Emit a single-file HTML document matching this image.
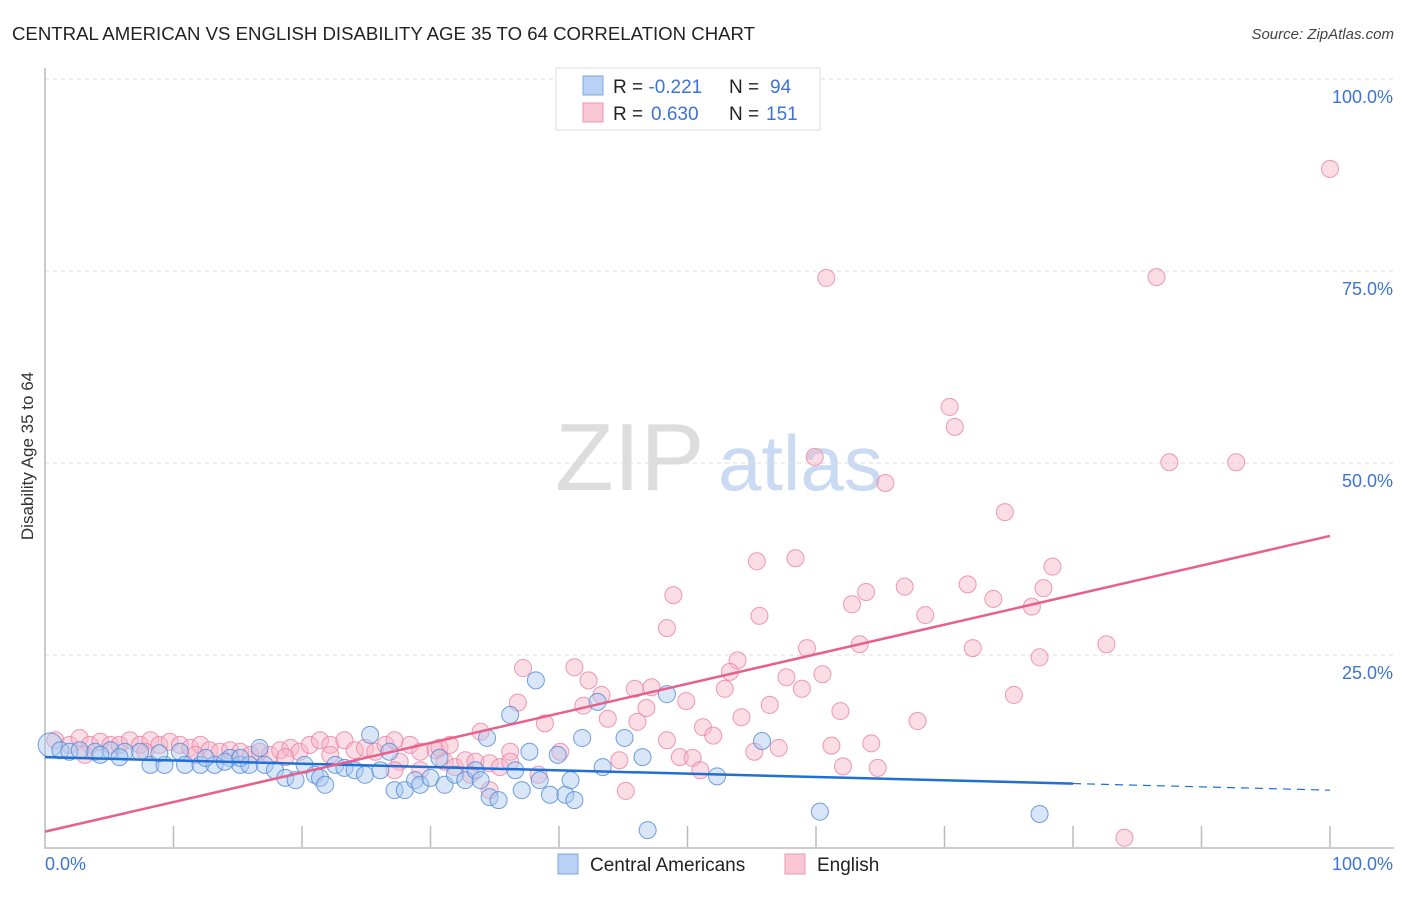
<!DOCTYPE html>
<html><head><meta charset="utf-8"><style>
body{margin:0;background:#fff;font-family:"Liberation Sans",sans-serif}
svg text{font-family:"Liberation Sans",sans-serif}
</style></head><body>
<svg id="chart" width="1406" height="892" xmlns="http://www.w3.org/2000/svg">
<text x="12" y="40" font-size="18" fill="#222" textLength="743" lengthAdjust="spacingAndGlyphs">CENTRAL AMERICAN VS ENGLISH DISABILITY AGE 35 TO 64 CORRELATION CHART</text>
<text x="1394" y="39" font-size="15" fill="#444" font-style="italic" text-anchor="end">Source: ZipAtlas.com</text>
<g><text x="555" y="490" font-size="96" fill="#ddd" font-family="Liberation Serif">ZIP</text><text x="718" y="490" font-size="78" fill="#c9daf2">atlas</text></g>
<text transform="translate(33,456) rotate(-90)" font-size="17" fill="#333" text-anchor="middle">Disability Age 35 to 64</text>
<g id="grid"></g><g id="axes"></g><g id="pts"></g><g id="trend"></g>
<g>
<rect x="556" y="68" width="264" height="62" fill="#fff" stroke="#ddd"/>
<rect x="583" y="76" width="20" height="19" fill="#b9d1f4" stroke="#7aa7e6"/>
<rect x="583" y="103" width="20" height="19" fill="#f9c6d5" stroke="#ee95b2"/>
<text x="613" y="93" font-size="19" fill="#222">R = <tspan fill="#3b74d4">-0.221</tspan><tspan x="729">N = </tspan><tspan x="770" fill="#3b74d4">94</tspan></text>
<text x="613" y="120" font-size="19" fill="#222">R = <tspan x="651" fill="#3b74d4">0.630</tspan><tspan x="729">N = </tspan><tspan x="766" fill="#3b74d4">151</tspan></text>
</g>
<g>
<rect x="558" y="854" width="20" height="20" fill="#b9d1f4" stroke="#7aa7e6"/><text x="590" y="871" font-size="19" fill="#222">Central Americans</text>
<rect x="785" y="854" width="20" height="20" fill="#f9c6d5" stroke="#ee95b2"/><text x="817" y="871" font-size="19" fill="#222">English</text>
</g>
</svg>
<script>
const blueX=[0.4,1.2,1.9,2.7,3.9,5.1,6.2,7.4,8.2,9.3,10.5,10.9,12.1,13.2,14.4,15.2,15.9,16.7,17.1,17.9,18.7,19.5,20.2,21.0,21.4,21.8,22.6,23.3,24.1,24.9,25.3,26.1,26.8,27.2,28.0,28.8,29.2,30.0,30.7,31.1,31.9,32.7,33.5,33.9,34.4,34.6,35.3,36.2,36.6,37.1,37.7,38.2,38.5,39.3,39.9,40.5,40.9,41.2,41.8,43.0,43.4,45.1,46.5,46.9,48.4,52.3,55.8,60.3,77.4,4.3,5.8,8.9,12.5,14.0,15.2];
const blueY=[13.3,12.6,12.4,12.6,12.4,12.6,12.4,12.4,10.7,10.7,12.4,10.7,10.7,10.7,11.6,10.7,10.7,12.9,10.7,10.0,9.0,8.7,10.7,9.4,9.0,8.1,10.7,10.3,10.0,9.4,14.6,10.0,12.4,7.4,7.4,8.7,8.1,9.0,11.6,8.1,9.4,8.7,10.0,8.7,14.2,6.5,6.1,17.2,10.0,7.4,12.4,21.7,8.7,6.8,12.0,6.8,8.7,6.1,14.2,18.9,10.4,14.2,11.7,2.2,19.9,9.2,13.8,4.6,4.3,12.0,11.7,12.2,11.6,11.1,11.6];
const pinkX=[100,60.8,86.5,70.4,70.8,59.9,87.5,92.7,65.4,74.7,55.4,58.4,78.4,63.9,66.9,71.8,73.8,77.7,76.8,62.8,68.5,48.9,48.4,55.6,59.3,63.4,72.2,82.6,77.4,53.9,53.3,57.7,37.2,41.2,42.3,43.3,45.9,47.2,49.9,52.9,58.9,60.5,75.4,36.8,41.9,46.8,56.4,54.2,61.9,67.9,38.9,43.8,46.1,51.2,52.0,48.4,55.2,57.1,61.2,64.3,33.9,36.2,40.1,44.7,49.4,50.4,51.0,62.1,64.8,45.2,38.4,84.0,
0.8,1.9,2.7,3.5,4.3,5.1,5.8,6.6,7.4,8.2,8.9,9.7,10.5,11.3,12.1,12.8,13.6,14.4,15.2,16.0,16.7,17.5,18.3,19.1,19.8,20.6,21.4,22.2,23.3,24.1,24.9,25.7,26.5,27.2,28.4,29.2,30.4,31.1,31.9,32.7,33.5,34.6,35.4,36.2,
3.1,7.8,11.7,18.7,22.2,27.6,30.7,31.5,29.2,27.2,33.1,34.6];
const pinkY=[88.3,74.1,74.2,57.3,54.7,50.8,50.1,50.1,47.4,43.6,37.2,37.6,36.5,33.2,33.9,34.2,32.3,33.7,31.3,31.6,30.2,32.8,28.5,30.1,25.9,26.4,25.9,26.4,24.7,24.3,22.8,22.1,23.3,23.4,21.7,19.8,20.6,20.8,19.0,20.6,20.6,22.5,19.8,18.8,18.4,18.1,18.5,16.9,17.7,16.4,16.1,16.7,16.3,15.6,14.5,13.9,12.4,12.9,13.2,13.5,15.0,12.4,12.4,11.3,11.7,11.6,10.0,10.5,10.3,7.3,9.4,1.2,
13.9,13.3,14.2,13.3,13.7,13.3,13.3,13.9,13.3,13.9,13.3,13.7,13.3,12.9,13.3,12.6,12.4,12.6,12.4,12.0,12.4,12.0,12.6,12.9,12.4,13.3,13.9,13.3,13.9,12.6,12.9,12.4,13.3,13.9,13.3,12.4,12.6,11.1,10.4,11.3,11.1,10.9,10.4,11.1,
12.0,12.4,12.0,11.7,12.0,11.1,12.9,13.3,10.0,10.0,9.4,7.4];
const blueTrend=[11.7,7.4];
const pinkTrend=[2.0,40.5];
const yTicks=[25,50,75,100];
const yTickLabels=["25.0%","50.0%","75.0%","100.0%"];
const NS="http://www.w3.org/2000/svg";
const X0=45,X1=1330,Y0=847,Y1=79;
const sx=v=>X0+(X1-X0)*v/100, sy=v=>Y0-(Y0-Y1)*v/100;
function mk(tag,attrs,parent){const e=document.createElementNS(NS,tag);for(const k in attrs)e.setAttribute(k,attrs[k]);document.getElementById(parent).appendChild(e);return e;}
yTicks.forEach((t,i)=>{
 const l=mk('line',{x1:X0,x2:1394,y1:sy(t),y2:sy(t),stroke:'#ddd','stroke-dasharray':'4,4'},'grid');
 
 
 const tx=mk('text',{x:1393,y:sy(t)+24,'font-size':18,fill:'#3b74d4','text-anchor':'end'},'grid');
 tx.textContent=yTickLabels[i];
 
 
});
const ax=mk('path',{d:`M${X0} 68 V${Y0+1} H${X1+64}`,fill:'none',stroke:'#bbb','stroke-width':1.5},'axes');


for(let i=1;i<=10;i++){const t=mk('line',{x1:sx(i*10),x2:sx(i*10),y1:826,y2:Y0,stroke:'#bbb','stroke-width':1.5},'axes');
 
 }
const xl=mk('text',{x:45,y:870,'font-size':18,fill:'#3b74d4'},'axes');xl.textContent='0.0%';


const xr=mk('text',{x:1393,y:870,'font-size':18,fill:'#3b74d4','text-anchor':'end'},'axes');xr.textContent='100.0%';


function dots(xs,ys,fill,stroke,name){for(let i=0;i<Math.min(xs.length,ys.length);i++){
 const c=mk('circle',{cx:sx(xs[i]),cy:sy(ys[i]),r:(i===0&&name==='central-american-point')?12:8.5,fill:fill,'fill-opacity':0.45,stroke:stroke,'stroke-opacity':0.8,'stroke-width':1},'pts');
 
 }}
dots(pinkX,pinkY,'#f7b3c8','#ec7fa3','english-point');
dots(blueX,blueY,'#a9c8f0','#4f88d8','central-american-point');
const b=v=>blueTrend[0]+(blueTrend[1]-blueTrend[0])*v/100;
const bl=mk('line',{x1:sx(0),y1:sy(b(0)),x2:sx(80),y2:sy(b(80)),stroke:'#1f6fd6','stroke-width':2.5},'trend');


const bd=mk('line',{x1:sx(80),y1:sy(b(80)),x2:sx(100),y2:sy(b(100)),stroke:'#1f6fd6','stroke-width':1.2,'stroke-dasharray':'8,6'},'trend');


const pl=mk('line',{x1:sx(0),y1:sy(pinkTrend[0]),x2:sx(100),y2:sy(pinkTrend[1]),stroke:'#e8608a','stroke-width':2.5},'trend');


</script>
</body></html>
